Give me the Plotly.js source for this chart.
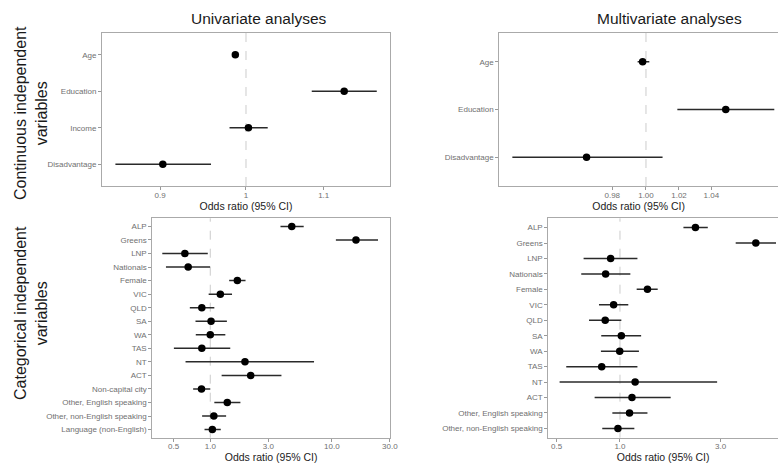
<!DOCTYPE html>
<html>
<head>
<meta charset="utf-8">
<script src="https://cdn.plot.ly/plotly-3.0.1.min.js"></script>
<style>
  html, body { margin: 0; padding: 0; background: #fff; }
  #chart { width: 778px; height: 464px; }
</style>
</head>
<body>
<div id="chart"></div>
<script>
// Continuous predictors, univariate models
const contLabelsUni = ['Age', 'Education', 'Income', 'Disadvantage'];
const contOrUni = [0.987, 1.128, 1.003, 0.903];
const contLoUni = [0.984, 1.084, 0.980, 0.852];
const contHiUni = [0.990, 1.174, 1.027, 0.958];

// Continuous predictors, multivariate model
const contLabelsMulti = ['Age', 'Education', 'Disadvantage'];
const contOrMulti = [0.998, 1.049, 0.965];
const contLoMulti = [0.995, 1.019, 0.923];
const contHiMulti = [1.002, 1.080, 1.010];

// Categorical predictors, univariate models
const catLabelsUni = ['ALP', 'Greens', 'LNP', 'Nationals', 'Female', 'VIC', 'QLD', 'SA', 'WA', 'TAS', 'NT', 'ACT',
  'Non-capital city', 'Other, English speaking', 'Other, non-English speaking', 'Language (non-English)'];
const catOrUni = [4.68, 15.8, 0.618, 0.658, 1.67, 1.21, 0.852, 1.015, 1.00, 0.852, 1.93, 2.15, 0.847, 1.38, 1.07, 1.04];
const catLoUni = [3.78, 10.8, 0.403, 0.432, 1.43, 0.97, 0.679, 0.756, 0.76, 0.502, 0.626, 1.24, 0.723, 1.08, 0.857, 0.897];
const catHiUni = [5.87, 24.0, 0.954, 0.996, 1.95, 1.51, 1.08, 1.37, 1.33, 1.46, 7.14, 3.85, 1.00, 1.77, 1.35, 1.22];

// Categorical predictors, multivariate model
const catLabelsMulti = ['ALP', 'Greens', 'LNP', 'Nationals', 'Female', 'VIC', 'QLD', 'SA', 'WA', 'TAS', 'NT', 'ACT',
  'Other, English speaking', 'Other, non-English speaking'];
const catOrMulti = [2.28, 4.41, 0.903, 0.855, 1.35, 0.933, 0.851, 1.015, 0.997, 0.819, 1.18, 1.14, 1.11, 0.978];
const catLoMulti = [2.00, 3.54, 0.672, 0.655, 1.20, 0.795, 0.713, 0.815, 0.812, 0.556, 0.517, 0.758, 0.92, 0.824];
const catHiMulti = [2.61, 5.50, 1.21, 1.12, 1.51, 1.095, 1.015, 1.26, 1.23, 1.21, 2.89, 1.74, 1.35, 1.17];

// Axis ticks
const tickValsTL = [0.9, 1, 1.1];
const tickTextTL = ['0.9', '1', '1.1'];
const tickValsTR = [0.98, 1.00, 1.02, 1.04];
const tickTextTR = ['0.98', '1.00', '1.02', '1.04'];
const tickValsCat = [0.5, 1, 3, 10, 30];
const tickTextCat = ['0.5', '1.0', '3.0', '10.0', '30.0'];
const tickValsBR = [0.5, 1, 3];
const tickTextBR = ['0.5', '1.0', '3.0'];

const nullValue = 1;

const FONT = 'Liberation Sans, Arial, sans-serif';

function forestTrace(labels, est, lo, hi, xa, ya) {
  return {
    type: 'scatter', mode: 'markers',
    x: est, y: labels, xaxis: xa, yaxis: ya,
    marker: { color: '#000', size: 7.5 },
    error_x: {
      type: 'data', symmetric: false,
      array: est.map((v, i) => hi[i] - v),
      arrayminus: est.map((v, i) => v - lo[i]),
      color: '#2a2a2a', thickness: 1.5, width: 0
    },
    showlegend: false, hoverinfo: 'x+y'
  };
}

const traces = [
  forestTrace(contLabelsUni, contOrUni, contLoUni, contHiUni, 'x', 'y'),
  forestTrace(contLabelsMulti, contOrMulti, contLoMulti, contHiMulti, 'x2', 'y2'),
  forestTrace(catLabelsUni, catOrUni, catLoUni, catHiUni, 'x3', 'y3'),
  forestTrace(catLabelsMulti, catOrMulti, catLoMulti, catHiMulti, 'x4', 'y4')
];

function xAxis(domain, range, vals, text, anchor) {
  return {
    type: 'log', domain: domain, range: range, anchor: anchor,
    tickvals: vals, ticktext: text,
    showgrid: false, zeroline: false,
    showline: true, mirror: true, linecolor: '#aaaaaa', linewidth: 1,
    ticks: 'outside', ticklen: 3, tickcolor: '#999', tickwidth: 1,
    ticklabelstandoff: -2,
    tickfont: { family: FONT, size: 8, color: '#707070' },
    title: { text: 'Odds ratio (95% CI)', font: { family: FONT, size: 10.5, color: '#222' }, standoff: 0 },
    automargin: false, fixedrange: true
  };
}

function yAxis(domain, labels, anchor) {
  return {
    type: 'category', domain: domain, anchor: anchor,
    categoryorder: 'array', categoryarray: labels,
    range: [labels.length - 0.4, -0.6],
    showgrid: false, zeroline: false,
    showline: true, mirror: true, linecolor: '#aaaaaa', linewidth: 1,
    ticks: 'outside', ticklen: 3, tickcolor: '#999', tickwidth: 1,
    tickfont: { family: FONT, size: 8, color: '#707070' },
    automargin: false, fixedrange: true
  };
}

const W = 778, H = 464;
const px = v => v / W;
const py = v => 1 - v / H;

const layout = {
  width: W, height: H,
  margin: { l: 0, r: 0, t: 0, b: 0 },
  paper_bgcolor: '#fff', plot_bgcolor: '#fff',
  font: { family: FONT },
  xaxis: xAxis([px(102), px(390)], [Math.log10(0.8381), Math.log10(1.1932)], tickValsTL, tickTextTL, 'y'),
  yaxis: yAxis([py(186), py(33)], contLabelsUni, 'x'),
  xaxis2: xAxis([px(499.3), 1], [Math.log10(0.9158), Math.log10(1.0824)], tickValsTR, tickTextTR, 'y2'),
  yaxis2: yAxis([py(186), py(33)], contLabelsMulti, 'x2'),
  xaxis3: xAxis([px(152.3), px(390)], [Math.log10(0.3335), Math.log10(30.1)], tickValsCat, tickTextCat, 'y3'),
  yaxis3: yAxis([py(437.7), py(218.3)], catLabelsUni, 'x3'),
  xaxis4: xAxis([px(548.3), 1], [Math.log10(0.457), Math.log10(5.62)], tickValsBR, tickTextBR, 'y4'),
  yaxis4: yAxis([py(437.7), py(218.3)], catLabelsMulti, 'x4'),
  shapes: ['x', 'x2', 'x3', 'x4'].map((xa, i) => ({
    type: 'line', layer: 'below',
    xref: xa, yref: (i === 0 ? 'y' : 'y' + (i + 1)) + ' domain',
    x0: nullValue, x1: nullValue, y0: 0, y1: 1,
    line: { color: '#cccccc', width: 1, dash: 'dash' }
  })),
  annotations: [
    { text: 'Univariate analyses', xref: 'paper', yref: 'paper', x: px(259), y: py(19),
      xanchor: 'center', yanchor: 'middle', showarrow: false,
      font: { family: FONT, size: 15.5, color: '#1a1a1a' } },
    { text: 'Multivariate analyses', xref: 'paper', yref: 'paper', x: px(669), y: py(19),
      xanchor: 'center', yanchor: 'middle', showarrow: false,
      font: { family: FONT, size: 15.5, color: '#1a1a1a' } },
    { text: 'Continuous independent<br>variables', xref: 'paper', yref: 'paper', x: px(31), y: py(113),
      xanchor: 'center', yanchor: 'middle', showarrow: false, textangle: -90,
      font: { family: FONT, size: 16, color: '#1a1a1a' } },
    { text: 'Categorical independent<br>variables', xref: 'paper', yref: 'paper', x: px(31), y: py(313),
      xanchor: 'center', yanchor: 'middle', showarrow: false, textangle: -90,
      font: { family: FONT, size: 16, color: '#1a1a1a' } }
  ]
};

Plotly.newPlot('chart', traces, layout, { staticPlot: true, displayModeBar: false });
</script>
</body>
</html>
